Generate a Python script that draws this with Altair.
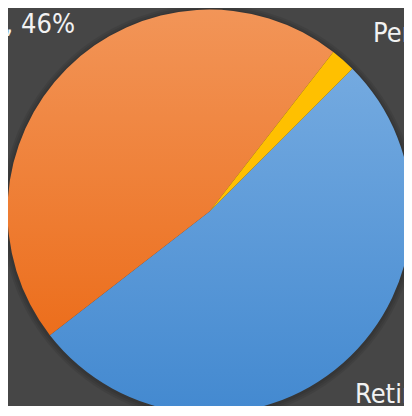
import math
import altair as alt
import pandas as pd

# ---- data ----
categories = ["Retirement", "Savings", "Personal"]
values = [52, 46, 2]
slice_order = [0, 1, 2]
labels = ["Retirement, 52%", "Savings, 46%", "Personal, 2%"]

df = pd.DataFrame({"category": categories, "value": values,
                   "order": slice_order, "label": labels})

START = math.radians(45)
CX, CY, R = 201.5, 203.5, 202
FONT = "DejaVu Sans Condensed"
FS = 27
TXT = "#F2F2F2"

base = (
    alt.Chart(df)
    .transform_joinaggregate(total="sum(value)")
    .transform_window(cum="sum(value)", sort=[alt.SortField("order")], frame=[None, 0])
    .transform_calculate(t0="(datum.cum - datum.value) / datum.total",
                         t1="datum.cum / datum.total")
)
theta_scale = alt.Scale(domain=[0, 1], range=[START, START + 2 * math.pi])


def grad(c0, c1):
    return alt.Gradient(gradient="linear", x1=0, x2=0, y1=0, y2=1,
                        stops=[alt.GradientStop(color=c0, offset=0),
                               alt.GradientStop(color=c1, offset=1)])


def slice_layer(cat, fill):
    return (
        base.transform_filter(alt.datum.category == cat)
        .mark_arc(radius=R, fill=fill)
        .encode(theta=alt.Theta("t0:Q", scale=theta_scale), theta2="t1:Q",
                x=alt.value(CX), y=alt.value(CY))
    )


shadow_layers = [
    base.transform_filter(alt.datum.category == categories[0])
    .mark_arc(radius=R + d, theta=0, theta2=2 * math.pi, fill="#000000", opacity=0.08)
    .encode(x=alt.value(CX), y=alt.value(CY + 1))
    for d in (2, 4, 6)
]

slices = [
    slice_layer("Retirement", grad("#74AAE0", "#4389D0")),
    slice_layer("Savings", grad("#F29558", "#EC6E1C")),
    slice_layer("Personal", grad("#FFC000", "#FFC000")),
]


def label_layer(cat, align, x, y):
    return (
        base.transform_filter(alt.datum.category == cat)
        .mark_text(align=align, baseline="alphabetic", font=FONT, fontSize=FS, color=TXT)
        .encode(text="label:N", x=alt.value(x), y=alt.value(y))
    )


texts = [
    label_layer("Savings", "right", 67, 25),
    label_layer("Personal", "left", 365, 34),
    label_layer("Retirement", "left", 347, 395),
]

chart = (
    alt.layer(*shadow_layers, *slices, *texts)
    .properties(width=396, height=398, padding=0,
                autosize=alt.AutoSizeParams(type="none"))
    .configure(background="#464646")
    .configure_view(stroke=None)
)

chart.save("out.html", embed_options={"renderer": "svg", "actions": False})
